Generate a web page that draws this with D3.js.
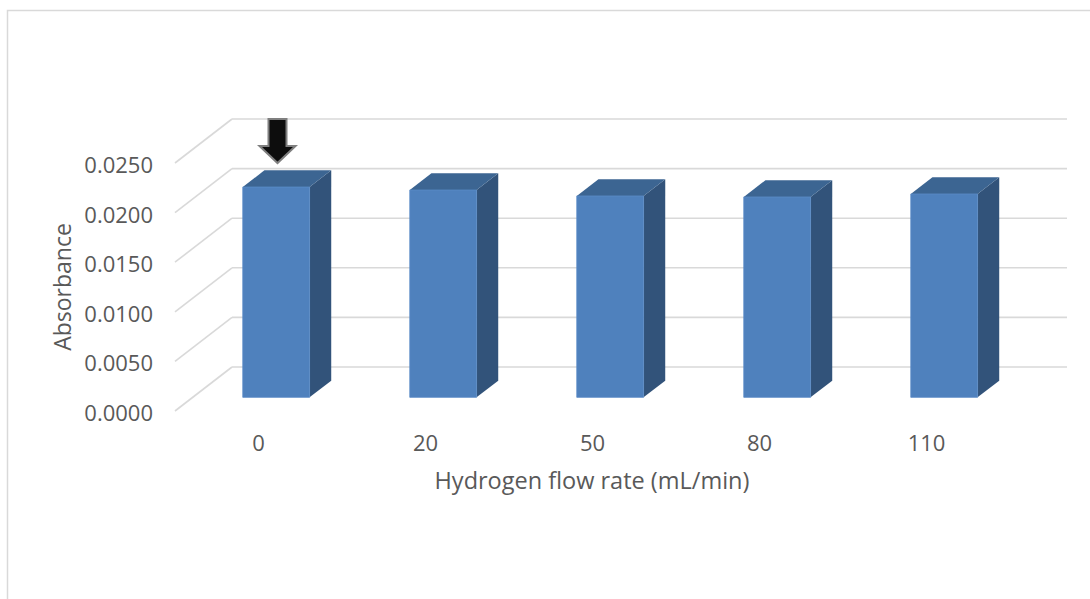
<!DOCTYPE html>
<html>
<head>
<meta charset="utf-8">
<script src="https://cdn.jsdelivr.net/npm/d3@7"></script>
<style>
  html, body { margin: 0; padding: 0; background: #fff; }
  svg text { font-family: "Open Sans", Lato, sans-serif; fill: #595959; }
</style>
</head>
<body>
<svg id="chart" width="1090" height="599"></svg>
<script>
// data
const categories = ["0", "20", "50", "80", "110"];
const absorbance = [0.0212, 0.0209, 0.0203, 0.0202, 0.0205];
const yTicks = [0, 0.005, 0.01, 0.015, 0.02, 0.025];

const svg = d3.select('#chart');

// 3d-ish frame: front plane + depth offset
const frontLeft = 175, frontRight = 1010;
const floorY = 411;
const depthX = 57, depthY = -44;
const barZ0 = 0.31, barZ1 = 0.69;

const x = d3.scaleBand()
    .domain(categories)
    .range([frontLeft, frontRight])
    .paddingInner(0.6)
    .paddingOuter(0.3);

const h = d3.scaleLinear().domain([0, 0.025]).range([0, 248]);

// project (front x, value, depth z) to screen
const proj = (px, v, z) => [px + z * depthX, floorY - h(v) + z * depthY];

// chart border
svg.append('rect')
    .attr('x', 7.5).attr('y', 10.5)
    .attr('width', 1200).attr('height', 800)
    .attr('fill', 'none')
    .attr('stroke', '#d9d9d9')
    .attr('stroke-width', 1.5);

// gridlines: side wall diagonals + back wall lines
const grid = svg.append('g')
    .attr('stroke', '#d9d9d9')
    .attr('stroke-width', 1.6)
    .attr('fill', 'none');

grid.selectAll('line.side')
    .data(yTicks)
    .enter()
    .append('line')
    .attr('class', 'side')
    .attr('x1', d => proj(frontLeft, d, 0)[0])
    .attr('y1', d => proj(frontLeft, d, 0)[1])
    .attr('x2', d => proj(frontLeft, d, 1)[0])
    .attr('y2', d => proj(frontLeft, d, 1)[1]);

grid.selectAll('line.back')
    .data(yTicks)
    .enter()
    .append('line')
    .attr('class', 'back')
    .attr('x1', d => proj(frontLeft, d, 1)[0])
    .attr('y1', d => proj(frontLeft, d, 1)[1])
    .attr('x2', d => proj(frontRight, d, 1)[0])
    .attr('y2', d => proj(frontRight, d, 1)[1]);

// y labels
svg.selectAll('text.ylab')
    .data(yTicks)
    .enter()
    .append('text')
    .attr('class', 'ylab')
    .attr('x', frontLeft - 22)
    .attr('y', d => proj(frontLeft, d, 0)[1] + 1)
    .attr('text-anchor', 'end')
    .attr('dominant-baseline', 'central')
    .style('font-size', '22px')
    .text(d => d3.format('.4f')(d));

// bars
const bw = x.bandwidth();
const bars = svg.selectAll('g.bar')
    .data(categories.map((c, i) => ({cat: c, v: absorbance[i]})))
    .enter()
    .append('g')
    .attr('class', 'bar');

const poly = pts => pts.map(p => p.join(',')).join(' ');

// side face
bars.append('polygon')
    .attr('fill', '#32537a')
    .attr('points', d => {
      const r = x(d.cat) + bw;
      return poly([proj(r, 0, barZ0), proj(r, 0, barZ1), proj(r, d.v, barZ1), proj(r, d.v, barZ0)]);
    });

// top face
bars.append('polygon')
    .attr('fill', '#3c6592')
    .attr('points', d => {
      const l = x(d.cat), r = x(d.cat) + bw;
      return poly([proj(l, d.v, barZ0), proj(r, d.v, barZ0), proj(r, d.v, barZ1), proj(l, d.v, barZ1)]);
    });

// front face
bars.append('polygon')
    .attr('fill', '#4f81bd')
    .attr('stroke', '#5b8cc6')
    .attr('stroke-width', 0.8)
    .attr('points', d => {
      const l = x(d.cat), r = x(d.cat) + bw;
      return poly([proj(l, 0, barZ0), proj(r, 0, barZ0), proj(r, d.v, barZ0), proj(l, d.v, barZ0)]);
    });

// x labels
svg.selectAll('text.xlab')
    .data(categories)
    .enter()
    .append('text')
    .attr('class', 'xlab')
    .attr('x', d => x(d) + bw / 2)
    .attr('y', 442)
    .attr('text-anchor', 'middle')
    .attr('dominant-baseline', 'central')
    .style('font-size', '22px')
    .text(d => d);

// axis titles
svg.append('text')
    .attr('x', 592)
    .attr('y', 480)
    .attr('text-anchor', 'middle')
    .attr('dominant-baseline', 'central')
    .style('font-size', '23.5px')
    .text('Hydrogen flow rate (mL/min)');

svg.append('text')
    .attr('transform', 'translate(62,287) rotate(-90)')
    .attr('text-anchor', 'middle')
    .attr('dominant-baseline', 'central')
    .style('font-size', '23px')
    .text('Absorbance');

// arrow marking the first bar
const ax = x(categories[0]) + bw / 2 + 19;
const tipY = proj(0, absorbance[0], barZ0)[1] - 24;
svg.append('path')
    .attr('d', `M${ax - 9},${tipY - 44} L${ax + 9},${tipY - 44} L${ax + 9},${tipY - 17}
                L${ax + 18},${tipY - 17} L${ax},${tipY} L${ax - 18},${tipY - 17}
                L${ax - 9},${tipY - 17} Z`)
    .attr('fill', '#0d0d0d')
    .attr('stroke', '#7f7f7f')
    .attr('stroke-width', 2)
    .attr('stroke-linejoin', 'miter');
</script>
</body>
</html>
